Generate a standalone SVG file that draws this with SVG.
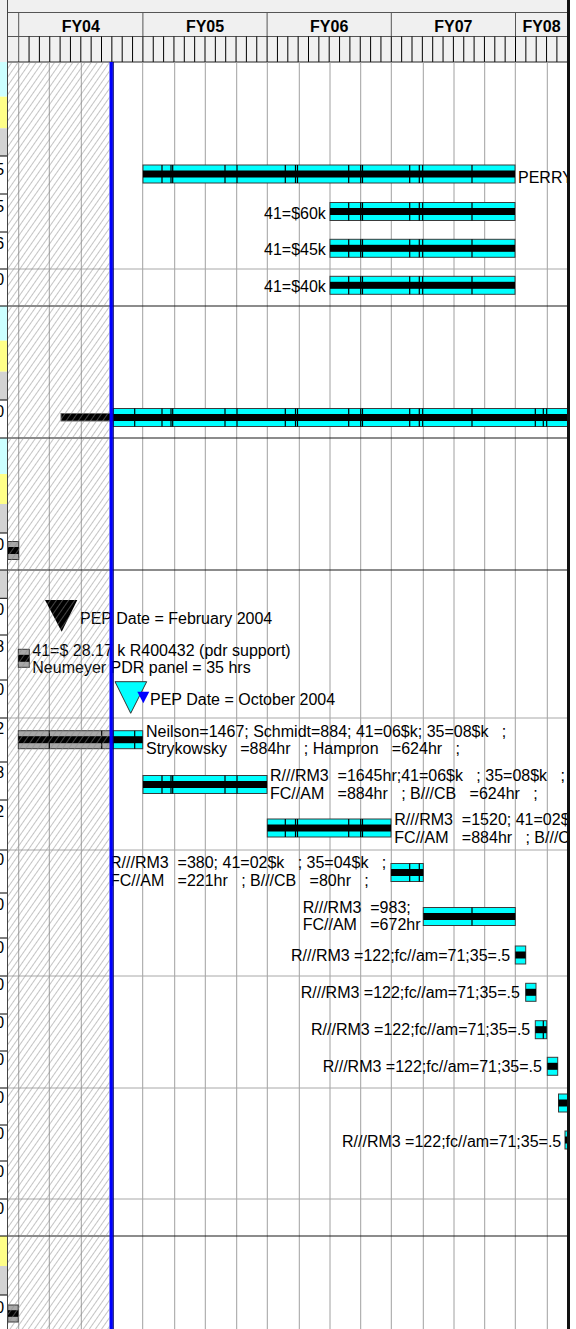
<svg xmlns="http://www.w3.org/2000/svg" width="576" height="1329" viewBox="0 0 576 1329">
<defs>
<style>
text{font-family:"Liberation Sans",Arial,Helvetica,sans-serif;font-size:16px;fill:#000}
.fy{font-weight:bold;text-anchor:middle}
.d{text-anchor:end}
.bar{fill:#00ffff;stroke:#3a3a3a;stroke-width:1}
.pb{fill:#a8a8a8;stroke:#3a3a3a;stroke-width:1}
.st{fill:#000}
.dv{stroke:#000;stroke-width:1.2;fill:none}
.g{stroke:#a0a0a0;stroke-width:1;fill:none}
.rl{stroke:#a8a8a8;stroke-width:1}
.rk{stroke:#1a1a1a;stroke-width:1.2}
.hl{stroke:#555;stroke-width:1;fill:none}
.tk{stroke:#000;stroke-width:1;fill:none}
.sl{stroke:#000;stroke-width:1;fill:none}
.cy{fill:#ccffff}.ye{fill:#ffff88}.gr{fill:#d3d3d3}
</style>
<pattern id="hatch" width="5" height="10" patternUnits="userSpaceOnUse" patternTransform="rotate(35)">
<line x1="0" y1="0" x2="0" y2="10" stroke="#8a8a8a" stroke-width="1"/>
</pattern>
<clipPath id="chart"><rect x="7.5" y="62" width="559.5" height="1267"/></clipPath>
<clipPath id="strip"><rect x="0" y="62" width="7" height="1267"/></clipPath>
</defs>
<rect x="0" y="0" width="576" height="1329" fill="#fff"/>

<g id="header">
<rect x="0" y="0" width="567" height="62" fill="#f0f0f0"/>
<path class="hl" d="M7.5 12.5H567M7.5 36.5H567"/>
<path class="hl" d="M18.7 12.5V62M142.9 12.5V36.5M267.1 12.5V36.5M391.3 12.5V36.5M515.5 12.5V36.5"/>
<text class="fy" x="80.8" y="32.3">FY04</text>
<text class="fy" x="205" y="32.3">FY05</text>
<text class="fy" x="329.2" y="32.3">FY06</text>
<text class="fy" x="453.4" y="32.3">FY07</text>
<text class="fy" x="541.5" y="32.3">FY08</text>
<path class="tk" d="M29.05 36.5V62M39.4 36.5V62M49.75 36.5V62M60.1 36.5V62M70.45 36.5V62M80.8 36.5V62M91.15 36.5V62M101.5 36.5V62M111.85 36.5V62M122.2 36.5V62M132.55 36.5V62M142.9 36.5V62M153.25 36.5V62M163.6 36.5V62M173.95 36.5V62M184.3 36.5V62M194.65 36.5V62M205 36.5V62M215.35 36.5V62M225.7 36.5V62M236.05 36.5V62M246.4 36.5V62M256.75 36.5V62M267.1 36.5V62M277.45 36.5V62M287.8 36.5V62M298.15 36.5V62M308.5 36.5V62M318.85 36.5V62M329.2 36.5V62M339.55 36.5V62M349.9 36.5V62M360.25 36.5V62M370.6 36.5V62M380.95 36.5V62M391.3 36.5V62M401.65 36.5V62M412 36.5V62M422.35 36.5V62M432.7 36.5V62M443.05 36.5V62M453.4 36.5V62M463.75 36.5V62M474.1 36.5V62M484.45 36.5V62M494.8 36.5V62M505.15 36.5V62M515.5 36.5V62M525.85 36.5V62M536.2 36.5V62M546.55 36.5V62M556.9 36.5V62"/>
<path d="M7.5 62H567" stroke="#222" stroke-width="1.2"/>
</g>

<g id="strip">
<rect class="cy" x="0" y="62" width="7.3" height="34.7"/>
<rect class="ye" x="0" y="96.7" width="7.3" height="31.6"/>
<rect class="gr" x="0" y="128.3" width="7.3" height="27.7"/>
<rect class="cy" x="0" y="306" width="7.3" height="34.7"/>
<rect class="ye" x="0" y="340.7" width="7.3" height="31"/>
<rect class="gr" x="0" y="371.7" width="7.3" height="28.3"/>
<rect class="cy" x="0" y="438" width="7.3" height="36"/>
<rect class="ye" x="0" y="474" width="7.3" height="30"/>
<rect class="gr" x="0" y="504" width="7.3" height="29"/>
<rect class="gr" x="0" y="570" width="7.3" height="28.3"/>
<rect class="ye" x="0" y="1236" width="7.3" height="30"/>
<rect class="gr" x="0" y="1266" width="7.3" height="29"/>
<path class="sl" d="M0 156H7M0 194H7M0 232H7M0 269H7M0 306H7M0 400H7M0 438H7M0 533H7M0 570H7M0 598.3H7M0 635H7M0 680H7M0 718H7M0 762H7M0 800H7M0 850H7M0 893H7M0 938H7M0 976H7M0 1014H7M0 1051H7M0 1088H7M0 1125H7M0 1161H7M0 1199H7M0 1236H7M0 1295H7"/>
<g clip-path="url(#strip)">
<text class="d" x="4.2" y="175">5</text>
<text class="d" x="4.2" y="212">5</text>
<text class="d" x="4.2" y="248.5">6</text>
<text class="d" x="4.2" y="285">0</text>
<text class="d" x="4.2" y="416.5">0</text>
<text class="d" x="4.2" y="550">0</text>
<text class="d" x="4.2" y="615">0</text>
<text class="d" x="4.2" y="652">8</text>
<text class="d" x="4.2" y="695">0</text>
<text class="d" x="4.2" y="733.5">2</text>
<text class="d" x="4.2" y="778">8</text>
<text class="d" x="4.2" y="816.5">2</text>
<text class="d" x="4.2" y="865">0</text>
<text class="d" x="4.2" y="909.5">0</text>
<text class="d" x="4.2" y="953">0</text>
<text class="d" x="4.2" y="990">0</text>
<text class="d" x="4.2" y="1028">0</text>
<text class="d" x="4.2" y="1065">0</text>
<text class="d" x="4.2" y="1103">0</text>
<text class="d" x="4.2" y="1139">0</text>
<text class="d" x="4.2" y="1177">0</text>
<text class="d" x="4.2" y="1214">0</text>
<text class="d" x="4.2" y="1313">0</text>
</g>
</g>

<g id="grid">
<path class="g" d="M18.7 62V1329M49.3 62V1329M81.3 62V1329M142.7 62V1329M174.7 62V1329M205.3 62V1329M236.7 62V1329M267.3 62V1329M299.3 62V1329M330 62V1329M360.7 62V1329M391.3 62V1329M423.3 62V1329M454 62V1329M484.7 62V1329M515.3 62V1329M547.3 62V1329"/>
<path class="rl" d="M7.5 269H567M7.5 718H567M7.5 850H567M7.5 976H567M7.5 1088H567M7.5 1199H567"/>
<path class="rk" d="M7.5 306H567M7.5 438H567M7.5 570H567M7.5 1236H567"/>
</g>

<g id="connectors"/>

<g clip-path="url(#chart)">
<g id="task-perry">
<rect class="bar" x="143" y="165" width="372" height="18"/>
<rect class="st" x="143" y="170.5" width="372" height="7"/>
<path class="dv" d="M162 165V183M171 165V183M172.7 165V183M225 165V183M237 165V183M285.3 165V183M295.5 165V183M297.5 165V183M348.7 165V183M360.7 165V183M362.5 165V183M409.7 165V183M419.3 165V183M422.7 165V183M472 165V183"/>
<text x="518" y="183">PERRY</text>
</g>
<g id="task-60k">
<text x="264" y="218.5">41=$60k</text>
<rect class="bar" x="330" y="202.5" width="185" height="18"/>
<rect class="st" x="330" y="208" width="185" height="7"/>
<path class="dv" d="M348.7 202.5V220.5M360.7 202.5V220.5M362.5 202.5V220.5M409.7 202.5V220.5M419.3 202.5V220.5M422.7 202.5V220.5M472 202.5V220.5"/>
</g>
<g id="task-45k">
<text x="264" y="255.3">41=$45k</text>
<rect class="bar" x="330" y="239.3" width="185" height="18"/>
<rect class="st" x="330" y="244.8" width="185" height="7"/>
<path class="dv" d="M348.7 239.3V257.3M360.7 239.3V257.3M362.5 239.3V257.3M409.7 239.3V257.3M419.3 239.3V257.3M422.7 239.3V257.3M472 239.3V257.3"/>
</g>
<g id="task-40k">
<text x="264" y="292.2">41=$40k</text>
<rect class="bar" x="330" y="276.3" width="185" height="18"/>
<rect class="st" x="330" y="281.8" width="185" height="7"/>
<path class="dv" d="M348.7 276.3V294.3M360.7 276.3V294.3M362.5 276.3V294.3M409.7 276.3V294.3M419.3 276.3V294.3M422.7 276.3V294.3M472 276.3V294.3"/>
</g>
<g id="task-long">
<rect x="61" y="413.5" width="52" height="7.5" fill="#000" stroke="#666" stroke-width="1"/>
<rect class="bar" x="113" y="408.5" width="460" height="18"/>
<rect class="st" x="113" y="414" width="460" height="7"/>
<path class="dv" d="M134.7 408.5V426.5M162 408.5V426.5M171 408.5V426.5M172.7 408.5V426.5M225 408.5V426.5M237 408.5V426.5M285.3 408.5V426.5M295.5 408.5V426.5M297.5 408.5V426.5M348.7 408.5V426.5M360.7 408.5V426.5M362.5 408.5V426.5M409.7 408.5V426.5M419.3 408.5V426.5M422.7 408.5V426.5M472 408.5V426.5M535.3 408.5V426.5M543.3 408.5V426.5M546.7 408.5V426.5"/>
</g>
<g id="task-small-545">
<rect class="pb" x="7.8" y="541.5" width="10.9" height="18"/>
<rect class="st" x="7.8" y="547" width="10.9" height="7"/>
</g>
<g id="milestone-pep-feb">
<polygon points="45,600 77.3,600 61.7,631.7" fill="#000"/>
<text x="80" y="623.5">PEP Date = February 2004</text>
</g>
<g id="task-pdr">
<rect class="pb" x="18.3" y="649.3" width="11" height="18"/>
<rect class="st" x="18.3" y="654.8" width="11" height="7"/>
<text x="32.3" y="655.5">41=$ 28.17 k R400432 (pdr support)</text>
<text x="32.3" y="672.5">Neumeyer PDR panel = 35 hrs</text>
</g>
<g id="milestone-pep-oct">
<polygon points="115,681.7 146.7,681.7 130.7,713.3" fill="#00ffff" stroke="#333" stroke-width="1"/>
<polygon points="137.3,691.7 149.3,691.7 143.3,703.3" fill="#0000ff"/>
<text x="150" y="704.5">PEP Date = October 2004</text>
</g>
<g id="task-neilson">
<rect class="pb" x="18.3" y="730.7" width="94.7" height="18"/>
<rect class="bar" x="113" y="730.7" width="29.7" height="18"/>
<rect class="st" x="18.3" y="736.2" width="124.4" height="7"/>
<path class="dv" d="M49.3 730.7V748.7M101.7 730.7V748.7M134.7 730.7V748.7"/>
<text x="146" y="736.7" xml:space="preserve">Neilson=1467; Schmidt=884; 41=06$k; 35=08$k   ;</text>
<text x="146" y="754.2" xml:space="preserve">Strykowsky   =884hr   ; Hampron   =624hr   ;</text>
</g>
<g id="task-1645">
<rect class="bar" x="143" y="775.5" width="124" height="18"/>
<rect class="st" x="143" y="781" width="124" height="7"/>
<path class="dv" d="M162 775.5V793.5M171 775.5V793.5M172.7 775.5V793.5M225 775.5V793.5M237 775.5V793.5"/>
<text x="270" y="781" xml:space="preserve">R///RM3  =1645hr;41=06$k   ; 35=08$k   ;</text>
<text x="270" y="798.5" xml:space="preserve">FC//AM   =884hr   ; B///CB   =624hr   ;</text>
</g>
<g id="task-1520">
<rect class="bar" x="267.3" y="819" width="123.7" height="18"/>
<rect class="st" x="267.3" y="824.5" width="123.7" height="7"/>
<path class="dv" d="M285.3 819V837M295.5 819V837M297.5 819V837M348.7 819V837M360.7 819V837M362.5 819V837"/>
<text x="394.3" y="825" xml:space="preserve">R///RM3  =1520; 41=02$k</text>
<text x="394.3" y="842.5" xml:space="preserve">FC//AM   =884hr   ; B///CB</text>
</g>
<g id="task-380">
<text x="110" y="868.3" xml:space="preserve">R///RM3  =380; 41=02$k   ; 35=04$k   ;</text>
<text x="110" y="886" xml:space="preserve">FC//AM   =221hr   ; B///CB   =80hr   ;</text>
<rect class="bar" x="391" y="863.5" width="32.3" height="18"/>
<rect class="st" x="391" y="869" width="32.3" height="7"/>
<path class="dv" d="M409.7 863.5V881.5M419.3 863.5V881.5"/>
</g>
<g id="task-983">
<text x="302.7" y="912.5" xml:space="preserve">R///RM3  =983;</text>
<text x="302.7" y="929.5" xml:space="preserve">FC//AM   =672hr</text>
<rect class="bar" x="423.3" y="907.5" width="92" height="18"/>
<rect class="st" x="423.3" y="913" width="92" height="7"/>
<path class="dv" d="M472 907.5V925.5"/>
</g>
<g id="task-122-a">
<text x="291" y="961">R///RM3 =122;fc//am=71;35=.5</text>
<rect class="bar" x="515.3" y="946" width="10.4" height="18"/>
<rect class="st" x="515.3" y="951.5" width="10.4" height="7"/>
</g>
<g id="task-122-b">
<text x="300.7" y="998">R///RM3 =122;fc//am=71;35=.5</text>
<rect class="bar" x="525.7" y="983.3" width="10.3" height="18"/>
<rect class="st" x="525.7" y="988.8" width="10.3" height="7"/>
</g>
<g id="task-122-c">
<text x="311" y="1035">R///RM3 =122;fc//am=71;35=.5</text>
<rect class="bar" x="535.3" y="1020.7" width="11.4" height="18"/>
<rect class="st" x="535.3" y="1026.2" width="11.4" height="7"/>
<path class="dv" d="M543.3 1020.7V1038.7"/>
</g>
<g id="task-122-d">
<text x="322.7" y="1072.3">R///RM3 =122;fc//am=71;35=.5</text>
<rect class="bar" x="547.3" y="1057.3" width="10.4" height="18"/>
<rect class="st" x="547.3" y="1062.8" width="10.4" height="7"/>
</g>
<g id="task-122-e">
<rect class="bar" x="558.5" y="1094" width="10" height="18"/>
<rect class="st" x="558.5" y="1099.5" width="10" height="7"/>
</g>
<g id="task-122-f">
<text x="342" y="1146.5">R///RM3 =122;fc//am=71;35=.5</text>
<rect class="bar" x="565" y="1131" width="10" height="18"/>
<rect class="st" x="565" y="1136.5" width="10" height="7"/>
</g>
<g id="task-small-bottom">
<rect class="pb" x="7.8" y="1305" width="10.4" height="17"/>
<rect class="st" x="7.8" y="1310.2" width="10.4" height="6.6"/>
</g>
</g>

<g id="today">
<rect x="7.5" y="62" width="102" height="1267" fill="url(#hatch)"/>
<rect x="109.5" y="62" width="3.4" height="1267" fill="#0000ff"/>
<path d="M113.3 62V1329" stroke="#00006a" stroke-width="1"/>
</g>

<g id="borders">
<path d="M7.5 0V1329" stroke="#444" stroke-width="1"/>
<rect x="567" y="0" width="3" height="1329" fill="#111"/>
</g>
</svg>
